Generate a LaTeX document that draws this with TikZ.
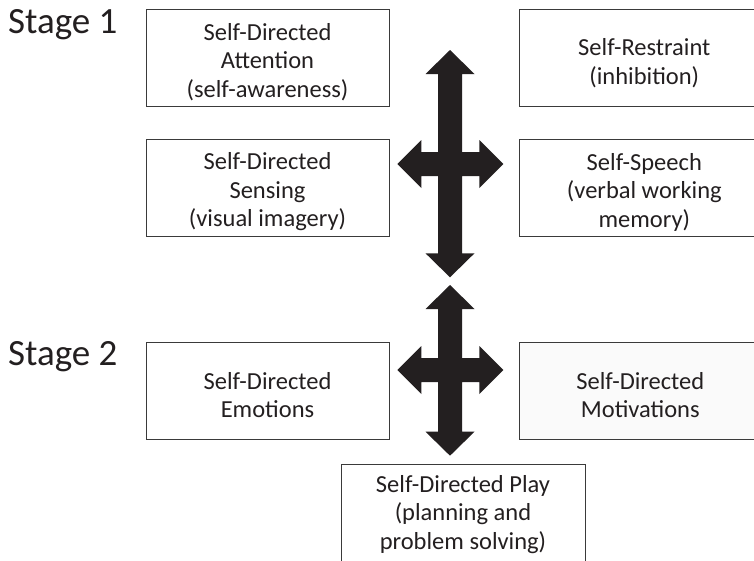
\documentclass[tikz,border=0pt]{standalone}
\usepackage{fontspec}
\setmainfont{Carlito}
\definecolor{ink}{HTML}{231F20}
\definecolor{boxline}{HTML}{3A3A3A}
\definecolor{lightfill}{HTML}{FAFAFA}
\newcommand{\crossarrow}[7]{%
\fill[ink] (#1,#3) coordinate (#7-top) -- ({#1+24.5},{#3+24}) -- ({#1+12},{#3+24}) -- ({#1+12},{#2-12}) -- ({#6-24},{#2-12}) -- ({#6-24},{#2-24}) -- (#6,#2) coordinate (#7-right) -- ({#6-24},{#2+24}) -- ({#6-24},{#2+12}) -- ({#1+12},{#2+12}) -- ({#1+12},{#4-24}) -- ({#1+24.5},{#4-24}) -- (#1,#4) coordinate (#7-bottom) -- ({#1-24.5},{#4-24}) -- ({#1-12},{#4-24}) -- ({#1-12},{#2+12}) -- ({#5+24},{#2+12}) -- ({#5+24},{#2+24}) -- (#5,#2) coordinate (#7-left) -- ({#5+24},{#2-24}) -- ({#5+24},{#2-12}) -- ({#1-12},{#2-12}) -- ({#1-12},{#3+24}) -- ({#1-24.5},{#3+24}) -- cycle;}
\begin{document}
\begin{tikzpicture}[x=1pt,y=-1pt,
  box/.style={draw=boxline, line width=1pt, inner sep=0pt},
  boxtext/.style={inner sep=0pt, align=center, text=ink, font=\fontsize{24.5}{28.5}\selectfont},
  stagelabel/.style={anchor=base west, inner sep=0pt, text=ink, font=\fontsize{37}{42}\selectfont}]
\useasboundingbox (0,0) rectangle (754,560);
\clip (0,0) rectangle (754,560);
\fill[white] (0,0) rectangle (754,560);
\node[stagelabel] (st1) at (8,33.3) {Stage 1};
\node[stagelabel] (st2) at (8,365) {Stage 2};
% boxes
\node[box, minimum width=243pt, minimum height=97.4pt] (attn) at (267.5,58) {};
\node[box, minimum width=243pt, minimum height=97.4pt] (sens) at (267.5,188) {};
\node[box, minimum width=250pt, minimum height=97.4pt] (restr) at (644.3,58) {};
\node[box, minimum width=250pt, minimum height=97.4pt] (speech) at (644.3,188) {};
\node[box, minimum width=243pt, minimum height=96.8pt] (emo) at (267.5,391) {};
\node[box, fill=lightfill, minimum width=250pt, minimum height=96.8pt] (motiv) at (644.3,391) {};
\node[box, minimum width=244pt, minimum height=97.7pt] (play) at (463,513.2) {};
% texts
\node[boxtext] (attn-t) at ([yshift=-4pt]attn.center) {Self-Directed\\Attention\\(self-awareness)};
\node[boxtext] (sens-t) at ([yshift=-4pt]sens.center) {Self-Directed\\Sensing\\(visual imagery)};
\node[boxtext] (restr-t) at ([yshift=-5pt]restr.center) {Self-Restraint\\(inhibition)};
\node[boxtext] (speech-t) at ([yshift=-4pt]speech.center) {Self-Speech\\(verbal working\\memory)};
\node[boxtext] (emo-t) at ([yshift=-4pt]emo.center) {Self-Directed\\Emotions};
\node[boxtext] (motiv-t) at ([xshift=-4pt,yshift=-4pt]motiv.center) {Self-Directed\\Motivations};
\node[boxtext] (play-t) at ([yshift=-1pt]play.center) {Self-Directed Play\\(planning and\\problem solving)};
% arrows
\crossarrow{450}{164}{50}{277.3}{397.3}{503.3}{xa}
\crossarrow{450}{370}{285}{455.7}{397.3}{503.3}{xb}
\end{tikzpicture}
\end{document}
